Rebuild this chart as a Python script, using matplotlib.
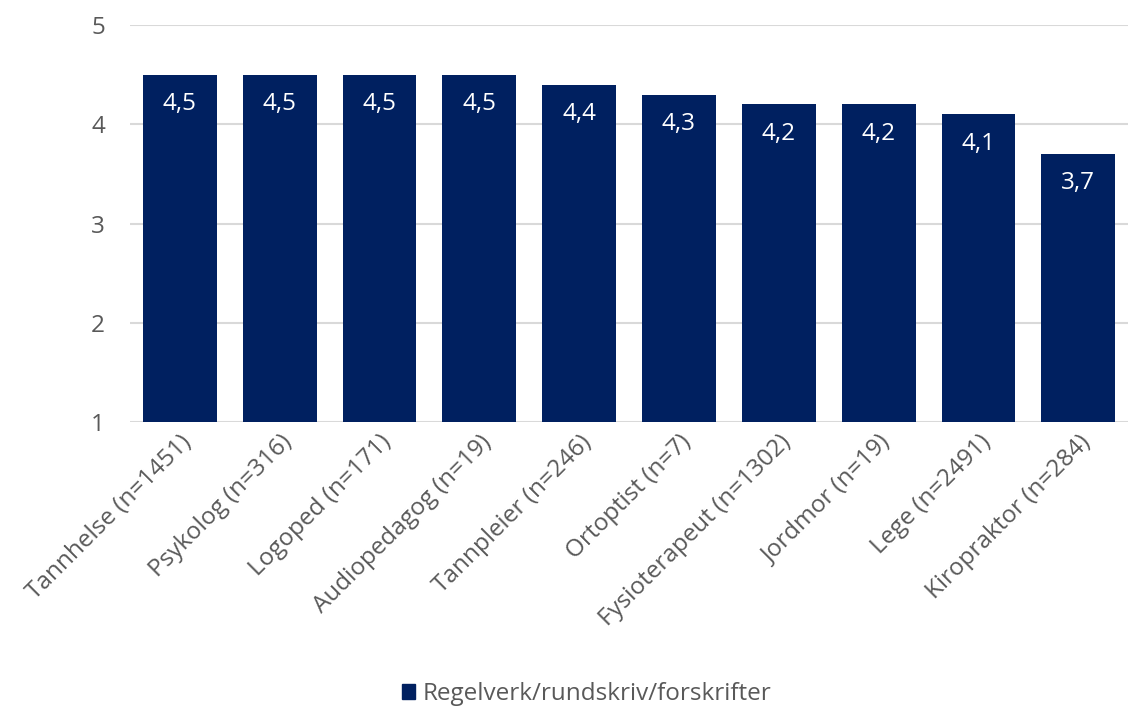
import matplotlib
matplotlib.use("Agg")
import matplotlib.pyplot as plt
from matplotlib.patches import Patch

plt.rcParams['font.family'] = ['Open Sans', 'DejaVu Sans']

categories = ["Tannhelse (n=1451)", "Psykolog (n=316)", "Logoped (n=171)",
              "Audiopedagog (n=19)", "Tannpleier (n=246)", "Ortoptist (n=7)",
              "Fysioterapeut (n=1302)", "Jordmor (n=19)", "Lege (n=2491)",
              "Kiropraktor (n=284)"]
values = [4.5, 4.5, 4.5, 4.5, 4.4, 4.3, 4.2, 4.2, 4.1, 3.7]
series_name = "Regelverk/rundskriv/forskrifter"
yticks = [1, 2, 3, 4, 5]

navy = "#002060"
grey_text = "#595959"
grid = "#D9D9D9"
fs = 17.5

fig = plt.figure(figsize=(11.28, 7.07), dpi=100)
ax = fig.add_axes([0.1152, 0.403, 0.885, 0.5615])

base = 1
x = list(range(len(categories)))
bars = ax.bar(x, [v - base for v in values], bottom=base, width=0.74,
              color=navy, zorder=3)

for xi, v in zip(x, values):
    ax.annotate(f"{v:.1f}".replace(".", ","), xy=(xi, v), xytext=(0, -21),
                textcoords="offset points", ha="center", va="center",
                color="white", fontsize=fs, zorder=4)

ax.set_xlim(-0.5, len(categories) - 0.5)
ax.set_ylim(1, 5)
ax.set_yticks(yticks)
ax.set_yticklabels([str(t) for t in yticks], fontsize=fs, color=grey_text)
ax.yaxis.grid(True, color=grid, linewidth=1.5, zorder=0)
ax.set_axisbelow(True)
ax.tick_params(axis="y", length=0, pad=18)
ax.tick_params(axis="x", length=0, pad=6)
ax.set_xticks(x)
ax.set_xticklabels(categories, rotation=45, ha="right", rotation_mode="anchor",
                   fontsize=fs, color=grey_text)
for s in ax.spines.values():
    s.set_visible(False)

fig.legend(handles=[Patch(color=navy, label=series_name)], loc="lower center",
           bbox_to_anchor=(0.52, -0.03), frameon=False, fontsize=fs,
           labelcolor=grey_text, handlelength=0.55, handleheight=0.55,
           handletextpad=0.3)

fig.savefig("out.png", dpi=100)
